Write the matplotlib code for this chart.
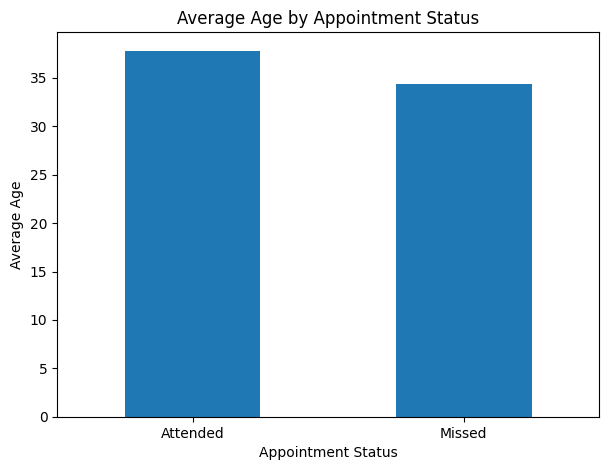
import matplotlib
matplotlib.use("Agg")
import matplotlib.pyplot as plt
import pandas as pd

# average patient age per appointment status
statuses = ["Attended", "Missed"]
avg_age = [37.79, 34.32]

s = pd.Series(avg_age, index=statuses)

fig = plt.figure(figsize=(6.09, 4.70), dpi=100)
ax = fig.add_subplot(111)
s.plot(kind="bar", ax=ax, rot=0, color="#1f77b4")
ax.set_title("Average Age by Appointment Status")
ax.set_xlabel("Appointment Status")
ax.set_ylabel("Average Age")
fig.subplots_adjust(left=0.094, right=0.984, bottom=0.113, top=0.931)
fig.savefig("out.png", dpi=100)
